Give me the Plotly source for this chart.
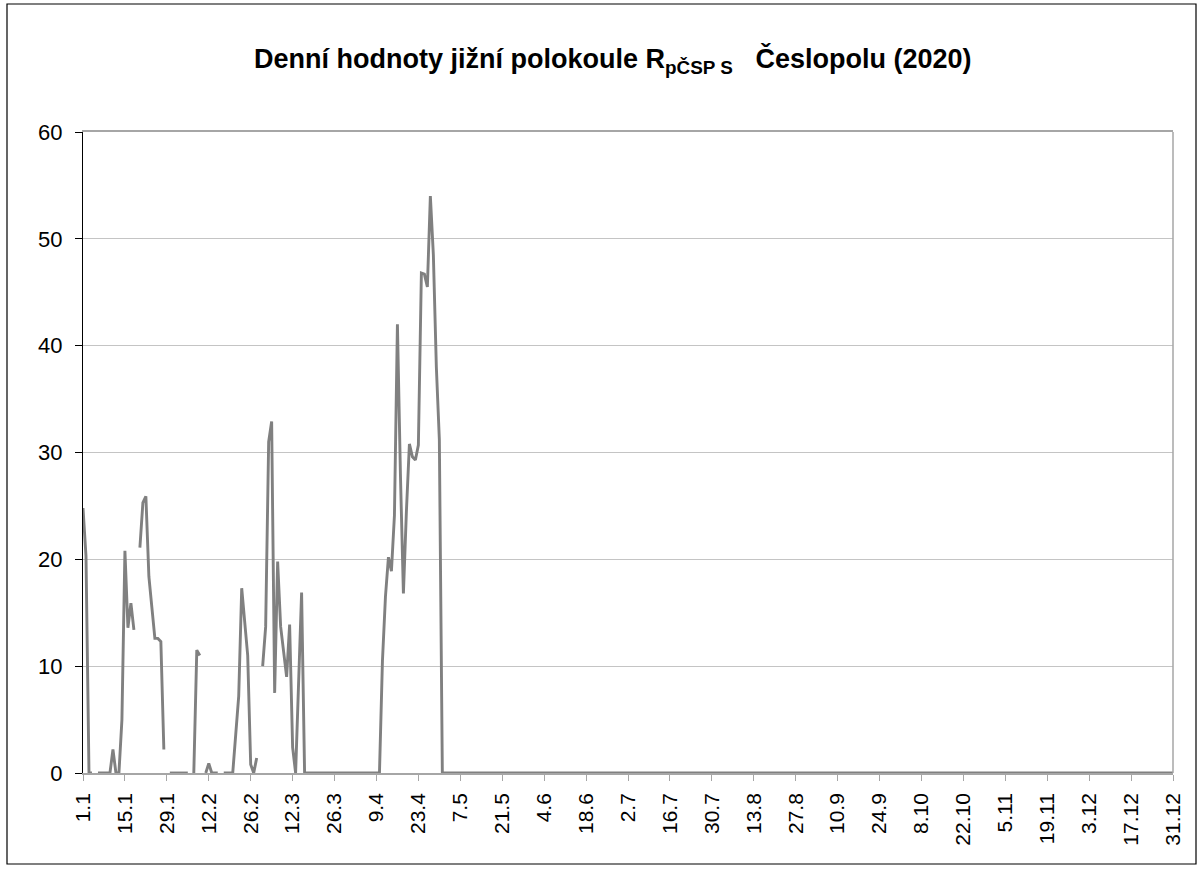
import plotly.graph_objects as go

# ---- categories (days of the year, d.m) ----
month_lengths = [31, 28, 31, 30, 31, 30, 31, 31, 30, 31, 30, 31]
categories = [f"{d}.{m}" for m, n in enumerate(month_lengths, start=1) for d in range(1, n + 1)]

tick_labels = ["1.1", "15.1", "29.1", "12.2", "26.2", "12.3", "26.3", "9.4", "23.4",
               "7.5", "21.5", "4.6", "18.6", "2.7", "16.7", "30.7", "13.8", "27.8",
               "10.9", "24.9", "8.10", "22.10", "5.11", "19.11", "3.12", "17.12", "31.12"]

# ---- daily values (None = missing day) ----
jan = [24.8, 20.3, 0, 0, None, 0, 0, 0, 0, 0, 2.2, 0, 0, 5.0, 20.8, 13.6, 15.9, 13.4,
       None, 21.1, 25.3, 25.9, 18.4, 15.5, 12.6, 12.6, 12.3, 2.2, None, 0, 0]
feb = [0, 0, 0, 0, 0, None, 0, 11.5, 11.0, None, 0, 0.9, 0, 0, 0, None, 0, 0, 0, 0,
       3.6, 7.2, 17.3, 14.2, 11.0, 0.8, 0.0, 1.4]
mar = [None, 10.0, 13.7, 31.0, 32.9, 7.5, 19.8, 13.7, 11.3, 9.0, 13.9, 2.4, 0, 8.4, 16.9,
       0, 0, 0, 0, 0, 0, 0, 0, 0, 0, 0, 0, 0, 0, 0, 0]
apr = [0, 0, 0, 0, 0, 0, 0, 0, 0, 0, 10.5, 16.5, 20.2, 18.9, 24.1, 42.0, 28.0, 16.8,
       24.5, 30.8, 29.6, 29.3, 30.7, 46.8, 46.7, 45.5, 54.0, 48.5, 38.0, 31.2]
may = [0, 0, 0, 0, 0, 0, 0, 0, 0, 0, 0, 0, 0, 0, 0, 0, 0, 0, 0, 0, 0, 0, 0, 0, 0, 0, 0, 0, 0, 0, 0]
jun = [0, 0, 0, 0, 0, 0, 0, 0, 0, 0, 0, 0, 0, 0, 0, 0, 0, 0, 0, 0, 0, 0, 0, 0, 0, 0, 0, 0, 0, 0]
jul = [0, 0, 0, 0, 0, 0, 0, 0, 0, 0, 0, 0, 0, 0, 0, 0, 0, 0, 0, 0, 0, 0, 0, 0, 0, 0, 0, 0, 0, 0, 0]
aug = [0, 0, 0, 0, 0, 0, 0, 0, 0, 0, 0, 0, 0, 0, 0, 0, 0, 0, 0, 0, 0, 0, 0, 0, 0, 0, 0, 0, 0, 0, 0]
sep = [0, 0, 0, 0, 0, 0, 0, 0, 0, 0, 0, 0, 0, 0, 0, 0, 0, 0, 0, 0, 0, 0, 0, 0, 0, 0, 0, 0, 0, 0]
oct_ = [0, 0, 0, 0, 0, 0, 0, 0, 0, 0, 0, 0, 0, 0, 0, 0, 0, 0, 0, 0, 0, 0, 0, 0, 0, 0, 0, 0, 0, 0, 0]
nov = [0, 0, 0, 0, 0, 0, 0, 0, 0, 0, 0, 0, 0, 0, 0, 0, 0, 0, 0, 0, 0, 0, 0, 0, 0, 0, 0, 0, 0, 0]
dec = [0, 0, 0, 0, 0, 0, 0, 0, 0, 0, 0, 0, 0, 0, 0, 0, 0, 0, 0, 0, 0, 0, 0, 0, 0, 0, 0, 0, 0, 0, 0]

values = jan + feb + mar + apr + may + jun + jul + aug + sep + oct_ + nov + dec

FONT = "Liberation Sans, Arial, sans-serif"
W, H = 1202, 869
L, R, T, B = 83, 29, 132, 96
pw, ph = W - L - R, H - T - B

def px_x(x):
    return (x - L) / pw

def px_y(y):
    return (H - B - y) / ph

fig = go.Figure()
fig.add_trace(go.Scatter(
    x=categories, y=values, mode="lines",
    line=dict(color="#808080", width=2.9),
    connectgaps=False, hoverinfo="x+y", showlegend=False,
))

fig.update_layout(
    width=W, height=H,
    margin=dict(l=L, r=R, t=T, b=B, pad=0),
    paper_bgcolor="white", plot_bgcolor="white",
    font=dict(family=FONT, color="black"),
    xaxis=dict(
        type="category", categoryorder="array", categoryarray=categories,
        range=[0, len(categories) - 1],
        tickmode="array", tickvals=tick_labels, ticktext=tick_labels,
        tickangle=-90, tickfont=dict(size=21, family=FONT, color="black"),
        showgrid=False, showline=True, linecolor="#a6a6a6", linewidth=1.5,
        mirror=True, ticks="outside", ticklen=6, tickcolor="#a6a6a6", tickwidth=1.2,
        ticklabelstandoff=4, zeroline=False,
    ),
    yaxis=dict(
        range=[0, 60], tickmode="array", tickvals=[0, 10, 20, 30, 40, 50, 60],
        tickfont=dict(size=22, family=FONT, color="black"),
        showgrid=True, gridcolor="#c4c4c4", gridwidth=1,
        showline=True, linecolor="black", linewidth=1.2,
        ticks="outside", ticklen=7, tickcolor="black", tickwidth=1.2,
        ticklabelstandoff=8, zeroline=False,
    ),
    shapes=[
        dict(type="line", xref="paper", yref="paper", x0=1, x1=1, y0=0, y1=1,
             line=dict(color="#a6a6a6", width=1.5)),
        dict(type="rect", xref="paper", yref="paper",
             x0=px_x(7), x1=px_x(1196), y0=px_y(864), y1=px_y(4),
             line=dict(color="black", width=1.2)),
    ],
    annotations=[
        dict(xref="paper", yref="paper", x=px_x(612), y=px_y(60),
             xanchor="center", yanchor="middle", showarrow=False,
             text="<b>Denní hodnoty jižní polokoule R<sub>pČSP S</sub>\u00a0\u00a0\u00a0Česlopolu (2020)</b>",
             font=dict(size=27, family=FONT, color="black")),
    ],
)

fig.write_html("out.html", config={"displayModeBar": False},
               post_script="document.body.style.margin='0';")
